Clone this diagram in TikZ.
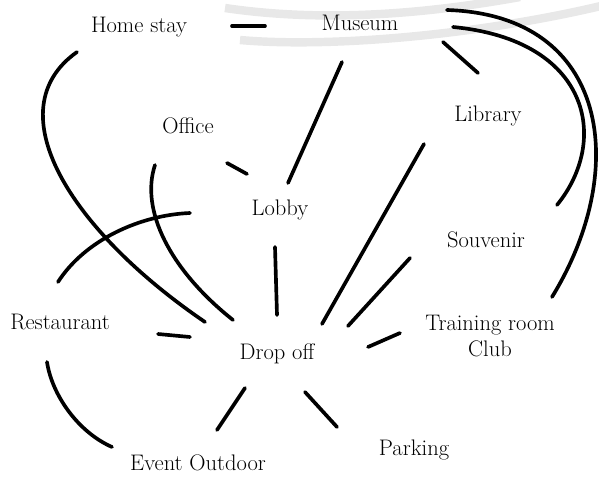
\documentclass[tikz,border=0pt]{standalone}
\begin{document}
\begin{tikzpicture}[x=0.025cm,y=-0.025cm,
  place/.style={inner sep=0pt,font=\fontsize{16}{19}\selectfont},
  link/.style={line width=2.6pt,line cap=round},
  halo/.style={line width=6pt,gray!18}]
\useasboundingbox (0,0) rectangle (599,481);

\draw[halo] (225,8) .. controls (320,22) and (420,15) .. (520,-3);
\draw[halo] (240,40) .. controls (330,48) and (480,35) .. (605,5);

\node[place] (homestay) at (139,27) {Home stay};
\node[place] (museum) at (360,23) {Museum};
\node[place] (office) at (188,126) {Office};
\node[place] (library) at (488,116) {Library};
\node[place] (lobby) at (280,210) {Lobby};
\node[place] (souvenir) at (486,240) {Souvenir};
\node[place] (restaurant) at (60,322) {Restaurant};
\node[place] (dropoff) at (277,354) {Drop off};
\node[place,align=center] (training) at (490,336) {Training room\\Club};
\node[place] (eventout) at (198,463) {Event Outdoor};
\node[place] (parking) at (414,450) {Parking};

\draw[link] ([shift={(93,-1)}]homestay.center) -- ([shift={(-95,3)}]museum.center);
\draw[link] ([shift={(-18,39)}]museum.center) -- ([shift={(8,-27)}]lobby.center);
\draw[link] ([shift={(83,19)}]museum.center) -- ([shift={(-10,-43)}]library.center);
\draw[link] ([shift={(93,4)}]museum.center) .. controls (590,40) and (610,140) .. ([shift={(71,-35)}]souvenir.center);
\draw[link] ([shift={(87,-13)}]museum.center) .. controls (610,15) and (630,170) .. ([shift={(62,-39)}]training.center);

\draw[link] ([shift={(-64,28)}]library.center) -- ([shift={(45,-30)}]dropoff.center);
\draw[link] ([shift={(-76,18)}]souvenir.center) -- ([shift={(71,-28)}]dropoff.center);
\draw[link] ([shift={(-90,-3)}]training.center) -- ([shift={(91,-7)}]dropoff.center);
\draw[link] ([shift={(28,38)}]dropoff.center) -- ([shift={(-77,-23)}]parking.center);
\draw[link] ([shift={(-32,34)}]dropoff.center) -- ([shift={(19,-33)}]eventout.center);
\draw[link] ([shift={(-13,40)}]restaurant.center) .. controls (52,395) and (78,432) .. ([shift={(-86,-16)}]eventout.center);
\draw[link] ([shift={(98,12)}]restaurant.center) -- ([shift={(-87,-17)}]dropoff.center);
\draw[link] ([shift={(-5,37)}]lobby.center) -- ([shift={(0,-39)}]dropoff.center);
\draw[link] ([shift={(39,37)}]office.center) -- ([shift={(-33,-36)}]lobby.center);

\draw[link] ([shift={(-62,25)}]homestay.center) .. controls (-5,110) and (70,230) .. ([shift={(-72,-32)}]dropoff.center);
\draw[link] ([shift={(-33,39)}]office.center) .. controls (140,210) and (170,270) .. ([shift={(-44,-34)}]dropoff.center);
\draw[link] ([shift={(-2,-40)}]restaurant.center) .. controls (85,240) and (140,215) .. ([shift={(-90,3)}]lobby.center);
\end{tikzpicture}
\end{document}
